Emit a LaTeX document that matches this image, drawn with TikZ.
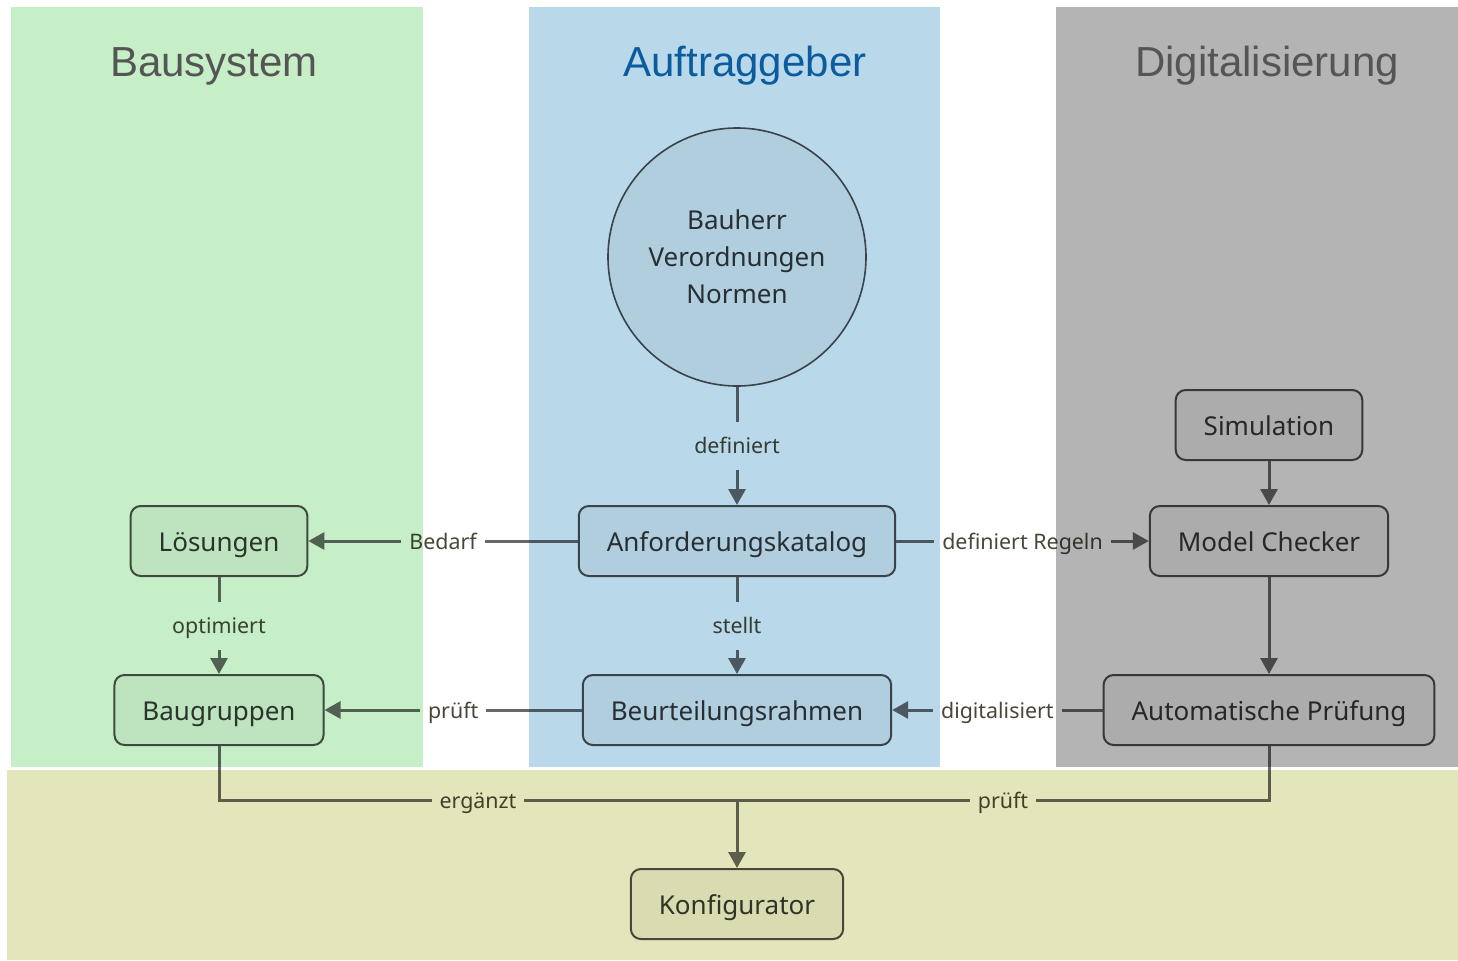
\documentclass[tikz,border=0pt]{standalone}
\usepackage{fontspec}
\setmainfont{Noto Sans}
\newfontfamily\titlefont{Liberation Sans}
\usetikzlibrary{arrows.meta}
\definecolor{bausys}{HTML}{C6EFC8}
\definecolor{auftrag}{HTML}{B9D8EA}
\definecolor{digital}{HTML}{B4B4B4}
\definecolor{konfig}{HTML}{E3E6BA}
\definecolor{linegray}{HTML}{686868}
\definecolor{boxline}{HTML}{505050}
\definecolor{boxfill}{HTML}{F4F4F4}
\definecolor{boxtext}{HTML}{383838}
\definecolor{lbltext}{HTML}{4A473A}
\definecolor{titlegray}{HTML}{555555}
\definecolor{titleblue}{HTML}{0A5C9E}

\begin{document}
\begin{tikzpicture}[->, >={Triangle[length=8pt,width=8.5pt]}, x=0.5pt, y=-0.5pt,
  line width=1.5pt, draw=linegray,
  box/.style={draw=boxline, line width=1pt, rounded corners=5pt, fill=boxfill,
    text=boxtext, font=\fontsize{13}{16}\selectfont, minimum height=35pt, inner xsep=14pt,
    text height=10pt, text depth=0pt},
  lbl/.style={fill=white, text=lbltext, font=\fontsize{10.7}{13}\selectfont,
    inner xsep=4pt, inner ysep=8pt, text height=8pt, text depth=0pt},
  title/.style={font=\titlefont\fontsize{21}{25}\selectfont}]
%
\useasboundingbox (0,0) rectangle (1458,960);
%
\node (Circ) [circle, draw=boxline, line width=0.8pt, fill=boxfill, text=boxtext,
  minimum size=129pt, align=center, font=\fontsize{13}{18.5}\selectfont]
  at (737,257) {Bauherr\\Verordnungen\\Normen};
\node (Anf) [box] at (737,541) {Anforderungskatalog};
\node (Beu) [box] at (737,710) {Beurteilungsrahmen};
\node (Loe) [box] at (219,541) {Lösungen};
\node (Bau) [box] at (219,710) {Baugruppen};
\node (Sim) [box] at (1269,425) {Simulation};
\node (MC) [box] at (1269,541) {Model Checker};
\node (AP) [box] at (1269,710) {Automatische Prüfung};
\node (Konf) [box] at (737,904) {Konfigurator};
\coordinate (J) at (737,800);
%
\path (Circ) edge node[lbl] {definiert} (Anf);
\path (Anf) edge node[lbl] {Bedarf} (Loe);
\path (Anf) edge node[lbl] {definiert Regeln} (MC);
\path (Anf) edge node[lbl] {stellt} (Beu);
\path (Loe) edge node[lbl] {optimiert} (Bau);
\path (Beu) edge node[lbl] {prüft} (Bau);
\path (AP) edge node[lbl] {digitalisiert} (Beu);
\path (Sim) edge (MC);
\path (MC) edge (AP);
\draw[-] (Bau) |- node[lbl, pos=0.75] {ergänzt} (J);
\draw[-] (AP) |- node[lbl, pos=0.75] {prüft} (J);
\draw (J) -- (Konf);
%
\begin{scope}[blend mode=multiply]
\fill[bausys] (11,7) rectangle (423,767);
\fill[auftrag] (529,7) rectangle (940,767);
\fill[digital] (1056,7) rectangle (1458,767);
\fill[konfig] (7,770) rectangle (1458,960);
\end{scope}
%
\node[title, text=titlegray] (T1) at (214,66) {Bausystem};
\node[title, text=titleblue] (T2) at (745,66) {Auftraggeber};
\node[title, text=titlegray] (T3) at (1267,66) {Digitalisierung};
\end{tikzpicture}
\end{document}
